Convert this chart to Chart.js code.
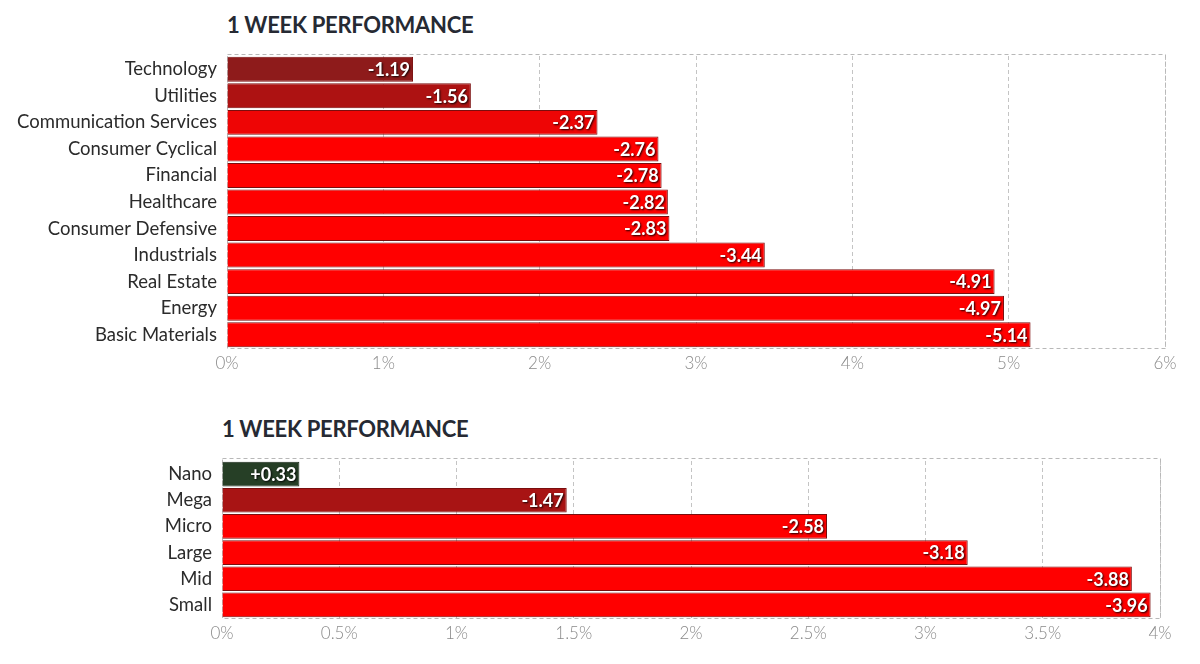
<!DOCTYPE html>
<html>
<head>
<meta charset="utf-8">
<script src="https://cdn.jsdelivr.net/npm/chart.js@4"></script>
<style>
  body { margin: 0; background: #fff; width: 1200px; height: 664px; position: relative; overflow: hidden; }
  .title { position: absolute; font-family: Lato, sans-serif; font-weight: 700; font-size: 22px; color: #262a33; letter-spacing: -0.3px; }
  .box { position: absolute; left: 0; width: 1200px; }
</style>
</head>
<body>
<div class="title" style="left:227px; top:11px;">1 WEEK PERFORMANCE</div>
<div class="box" style="top:0; height:385px;"><canvas id="sectorChart"></canvas></div>
<div class="title" style="left:222px; top:415px;">1 WEEK PERFORMANCE</div>
<div class="box" style="top:400px; height:264px;"><canvas id="capChart"></canvas></div>
<script>
// sectors
const sectorNames = ["Technology", "Utilities", "Communication Services", "Consumer Cyclical", "Financial",
  "Healthcare", "Consumer Defensive", "Industrials", "Real Estate", "Energy", "Basic Materials"];
const sectorChange = [-1.19, -1.56, -2.37, -2.76, -2.78, -2.82, -2.83, -3.44, -4.91, -4.97, -5.14];
const sectorColors = ["#8e1b1b", "#ad1212", "#ee0505", "#ff0000", "#ff0000", "#ff0000", "#ff0000",
  "#ff0000", "#ff0000", "#ff0000", "#ff0000"];
const sectorTicks = [0, 1, 2, 3, 4, 5, 6];

// market caps
const capNames = ["Nano", "Mega", "Micro", "Large", "Mid", "Small"];
const capChange = [0.33, -1.47, -2.58, -3.18, -3.88, -3.96];
const capColors = ["#263f26", "#a81414", "#ff0000", "#ff0000", "#ff0000", "#ff0000"];
const capTicks = [0, 0.5, 1, 1.5, 2, 2.5, 3, 3.5, 4];

// dashed frame round the plot area (sits a couple px above the first bar)
const frame = {
  id: 'frame',
  beforeDatasetsDraw(chart, args, opts) {
    const a = chart.chartArea, ctx = chart.ctx;
    const top = Math.round(a.top - (opts.lift || 0));
    ctx.save();
    ctx.strokeStyle = '#b8b8b8';
    ctx.lineWidth = 1;
    ctx.setLineDash([4, 3]);
    ctx.strokeRect(Math.round(a.left) + 0.5, top + 0.5, Math.round(a.right - a.left), Math.round(a.bottom) - top);
    ctx.restore();
  }
};

// value labels at the end of each bar
const barLabels = {
  id: 'barLabels',
  afterDatasetsDraw(chart) {
    const ctx = chart.ctx;
    const signed = chart.data.datasets[0].signed;
    ctx.save();
    ctx.font = 'bold 18px Lato, sans-serif';
    ctx.fillStyle = '#fff';
    ctx.textAlign = 'right';
    ctx.textBaseline = 'middle';
    ctx.shadowColor = 'rgba(0,0,0,0.9)';
    ctx.shadowBlur = 2;
    ctx.shadowOffsetX = 1;
    ctx.shadowOffsetY = 1;
    chart.getDatasetMeta(0).data.forEach((bar, i) => {
      const v = signed[i];
      const txt = (v > 0 ? '+' : '') + v.toFixed(2);
      ctx.fillText(txt, bar.x - 3, bar.y + 1);
    });
    ctx.restore();
  }
};

function makeChart(id, names, change, colors, ticks, yWidth, padTop, padRight, xHeight, lift) {
  const max = ticks[ticks.length - 1];
  return new Chart(document.getElementById(id), {
    type: 'bar',
    data: {
      labels: names,
      datasets: [{
        data: change.map(v => Math.abs(v)),
        signed: change,
        backgroundColor: colors,
        borderColor: colors.map(c => c === '#263f26' ? '#1a2a1a' : '#7a0d0d'),
        borderWidth: 1,
        barPercentage: 0.94,
        categoryPercentage: 1
      }]
    },
    options: {
      indexAxis: 'y',
      responsive: true,
      maintainAspectRatio: false,
      animation: false,
      layout: { padding: { top: padTop, right: padRight, left: 0, bottom: 0 } },
      plugins: { legend: { display: false }, tooltip: { enabled: false }, frame: { lift: lift } },
      scales: {
        x: {
          min: 0,
          max: max,
          afterBuildTicks: s => { s.ticks = ticks.map(v => ({ value: v })); },
          afterFit: s => { s.height = xHeight; },
          ticks: {
            color: '#8a8a8a',
            font: { family: 'Lato', size: 17, weight: 300 },
            padding: 5,
            callback: v => v + '%'
          },
          grid: { color: '#c4c4c4', tickLength: 0, drawTicks: false },
          border: { display: false, dash: [4, 3] }
        },
        y: {
          afterFit: s => { s.width = yWidth; },
          ticks: { color: '#2b2b2b', font: { family: 'Lato', size: 18.5 }, padding: 10 },
          grid: { display: false, drawTicks: false },
          border: { display: false }
        }
      }
    },
    plugins: [frame, barLabels]
  });
}

makeChart('sectorChart', sectorNames, sectorChange, sectorColors, sectorTicks, 227, 56, 35, 37, 2);
makeChart('capChart', capNames, capChange, capColors, capTicks, 222, 61, 40, 46, 3);
</script>
</body>
</html>
